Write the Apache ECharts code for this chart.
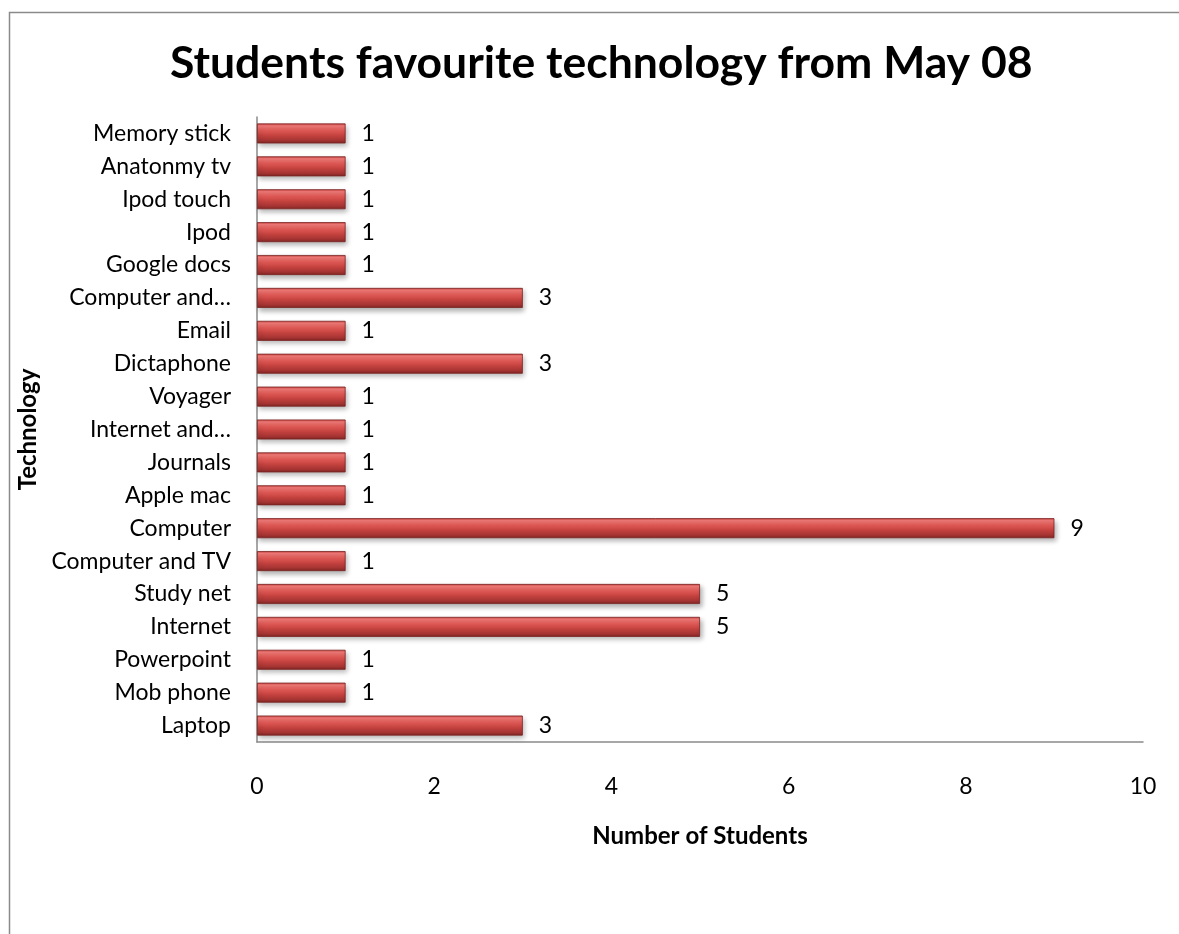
<!DOCTYPE html>
<html>
<head>
<meta charset="utf-8">
<script src="https://cdn.jsdelivr.net/npm/echarts@6/dist/echarts.min.js"></script>
<style>
  html, body { margin: 0; padding: 0; background: #fff; }
  #chart { width: 1179px; height: 934px; }
</style>
</head>
<body>
<div id="chart"></div>
<script>
// categories listed bottom to top (as the category axis draws them)
const categories = [
  "Laptop", "Mob phone", "Powerpoint", "Internet", "Study net",
  "Computer and TV", "Computer", "Apple mac", "Journals", "Internet and…",
  "Voyager", "Dictaphone", "Email", "Computer and…", "Google docs",
  "Ipod", "Ipod touch", "Anatonmy tv", "Memory stick"
];
const students = [3, 1, 1, 5, 5, 1, 9, 1, 1, 1, 1, 3, 1, 3, 1, 1, 1, 1, 1];
const xTicks = [0, 2, 4, 6, 8, 10];

const font = "Lato, 'Open Sans', sans-serif";
let myChart = echarts.init(document.getElementById("chart"));

myChart.setOption({
  animation: false,
  title: {
    text: "Students favourite technology from May 08",
    left: 165,
    top: 36,
    textStyle: { fontFamily: font, fontSize: 44.5, fontWeight: "bold", color: "#000" },
  },
  graphic: [
    {
      type: "rect",
      shape: { x: 9.5, y: 12.5, width: 1200, height: 960 },
      style: { fill: "none", stroke: "#8a8a8a", lineWidth: 1.5 },
      silent: true,
    },
  ],
  grid: { left: 257, right: 36, top: 117, bottom: 192 },
  xAxis: {
    type: "value",
    min: xTicks[0],
    max: xTicks[xTicks.length - 1],
    interval: 2,
    name: "Number of Students",
    nameLocation: "middle",
    nameGap: 82,
    nameTextStyle: { fontFamily: font, fontSize: 24, fontWeight: "bold", color: "#000" },
    axisLine: { show: true, lineStyle: { color: "#8a8a8a", width: 1.5 } },
    axisTick: { show: false },
    splitLine: { show: false },
    axisLabel: { margin: 33, fontFamily: font, fontSize: 23, color: "#000" },
  },
  yAxis: {
    type: "category",
    data: categories,
    name: "Technology",
    nameLocation: "middle",
    nameRotate: 90,
    nameGap: 213,
    nameTextStyle: { fontFamily: font, fontSize: 24, fontWeight: "bold", color: "#000" },
    axisLine: { show: true, lineStyle: { color: "#8a8a8a", width: 1.5 } },
    axisTick: { show: false },
    axisLabel: { margin: 26, fontFamily: font, fontSize: 23, color: "#000" },
  },
  series: [
    {
      type: "bar",
      data: students,
      barWidth: 20,
      label: {
        show: true,
        position: "right",
        distance: 16,
        fontFamily: font,
        fontSize: 23,
        color: "#000",
      },
      itemStyle: {
        // bevelled red bar
        color: new echarts.graphic.LinearGradient(0, 0, 0, 1, [
          { offset: 0, color: "#c9403d" },
          { offset: 0.12, color: "#f27b78" },
          { offset: 0.35, color: "#e05a56" },
          { offset: 0.6, color: "#c4423f" },
          { offset: 0.85, color: "#a43432" },
          { offset: 1, color: "#7e2624" },
        ]),
        borderColor: "#7a2322",
        borderWidth: 0.8,
        shadowColor: "rgba(0,0,0,0.3)",
        shadowBlur: 5,
        shadowOffsetY: 3,
        shadowOffsetX: 2,
      },
    },
  ],
});
</script>
</body>
</html>
